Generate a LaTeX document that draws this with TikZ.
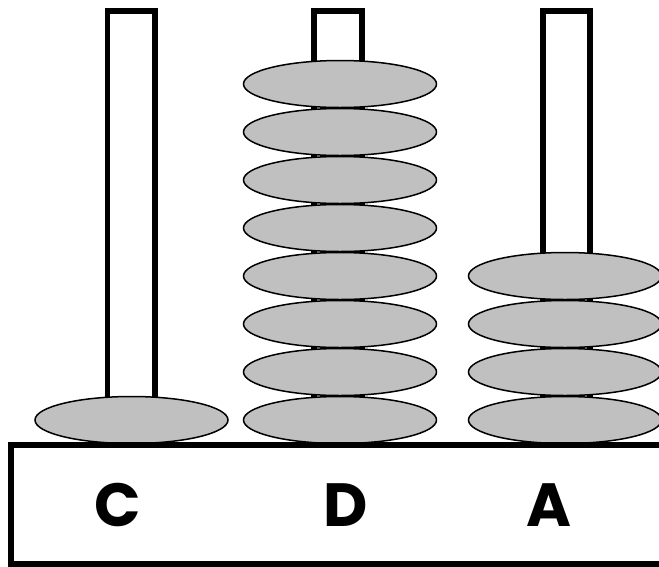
\documentclass[tikz,border=0pt]{standalone}
\usepackage{fontspec}
\newfontfamily\labelfont{Poppins}
\tikzset{
  rod/.style={draw=black, line width=5.5pt, fill=white},
  disc/.style={draw=black, line width=1.5pt, fill=discgray},
  basebox/.style={draw=black, line width=6pt, fill=white},
  pegname/.style={font=\labelfont\bfseries\fontsize{61}{61}\selectfont, inner sep=0pt, anchor=center}
}
\definecolor{discgray}{HTML}{C0C0C0}
\begin{document}
\begin{tikzpicture}[x=1pt,y=-1pt]
\useasboundingbox (0,0) rectangle (659,566);
% rods
\draw[rod] (107.5,420) rectangle (155,11);
\draw[rod] (314,420) rectangle (362,11);
\draw[rod] (543,420) rectangle (590,11);
% discs on C
\draw[disc] (131.5,420) ellipse [x radius=96.5, y radius=23.5];
% discs on D
\foreach \yy in {84,132,180,228,276,324,372,420}
  \draw[disc] (340,\yy) ellipse [x radius=96.5, y radius=23.5];
% discs on A
\foreach \yy in {276,324,372,420}
  \draw[disc] (565,\yy) ellipse [x radius=96.5, y radius=23.5];
% base
\draw[basebox] (11,445) rectangle (700,563.5);
\node[pegname] (lc) at (118,505) {C};
\node[pegname] (ld) at (346,505) {D};
\node[pegname] (la) at (549,505) {A};
\end{tikzpicture}
\end{document}
